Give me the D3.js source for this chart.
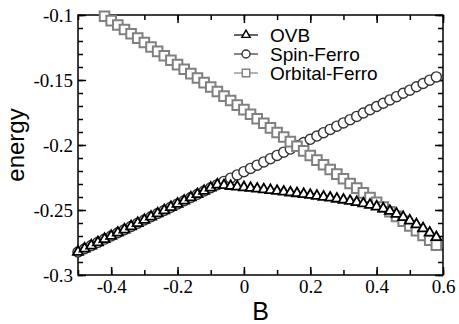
<!DOCTYPE html>
<html>
<head>
<meta charset="utf-8">
<script src="https://cdn.jsdelivr.net/npm/d3@7"></script>
<style>
  body { margin: 0; background: #fff; }
  .tick line { stroke: #000; stroke-width: 1.5; }
</style>
</head>
<body>
<div id="chart"></div>
<script>
// magnetic field values (shared by all three series)
const fieldB = [-0.5, -0.48, -0.46, -0.44, -0.42, -0.4, -0.38, -0.36, -0.34, -0.32,
    -0.3, -0.28, -0.26, -0.24, -0.22, -0.2, -0.18, -0.16, -0.14, -0.12,
    -0.1, -0.08, -0.06, -0.04, -0.02, 0, 0.02, 0.04, 0.06, 0.08,
    0.1, 0.12, 0.14, 0.16, 0.18, 0.2, 0.22, 0.24, 0.26, 0.28,
    0.3, 0.32, 0.34, 0.36, 0.38, 0.4, 0.42, 0.44, 0.46, 0.48,
    0.5, 0.52, 0.54, 0.56, 0.58];

const ovbEnergy = [-0.2823, -0.2798, -0.2774, -0.2749, -0.2724, -0.2700, -0.2675, -0.2651, -0.2626, -0.2601,
    -0.2577, -0.2552, -0.2527, -0.2503, -0.2478, -0.2453, -0.2429, -0.2404, -0.2379, -0.2354,
    -0.2329, -0.2305, -0.2310, -0.2316, -0.2321, -0.2326, -0.2331, -0.2337, -0.2342, -0.2348,
    -0.2354, -0.2360, -0.2366, -0.2372, -0.2378, -0.2385, -0.2392, -0.2399, -0.2406, -0.2414,
    -0.2422, -0.2431, -0.2440, -0.2450, -0.2461, -0.2474, -0.2490, -0.2508, -0.2530, -0.2555,
    -0.2582, -0.2611, -0.2642, -0.2675, -0.2710];

const spinFerroEnergy = [-0.2823, -0.2798, -0.2774, -0.2749, -0.2724, -0.2700, -0.2675, -0.2651, -0.2626, -0.2601,
    -0.2577, -0.2552, -0.2527, -0.2503, -0.2478, -0.2453, -0.2429, -0.2404, -0.2379, -0.2354,
    -0.2329, -0.2305, -0.2280, -0.2255, -0.2230, -0.2205, -0.2180, -0.2155, -0.2130, -0.2105,
    -0.2080, -0.2055, -0.2031, -0.2006, -0.1981, -0.1956, -0.1931, -0.1905, -0.1880, -0.1855,
    -0.1830, -0.1805, -0.1780, -0.1754, -0.1729, -0.1704, -0.1679, -0.1653, -0.1628, -0.1602,
    -0.1578, -0.1552, -0.1527, -0.1501, -0.1476];

// first four points lie above the plotted range
const orbitalFerroEnergy = [null, null, null, null, -0.1010, -0.1043, -0.1077, -0.1111, -0.1144, -0.1178,
    -0.1212, -0.1246, -0.1280, -0.1314, -0.1348, -0.1382, -0.1417, -0.1451, -0.1485, -0.1520,
    -0.1554, -0.1589, -0.1624, -0.1658, -0.1693, -0.1728, -0.1763, -0.1798, -0.1833, -0.1868,
    -0.1904, -0.1939, -0.1974, -0.2010, -0.2045, -0.2081, -0.2116, -0.2152, -0.2188, -0.2224,
    -0.2260, -0.2296, -0.2332, -0.2368, -0.2404, -0.2440, -0.2477, -0.2513, -0.2549, -0.2586,
    -0.2623, -0.2659, -0.2696, -0.2733, -0.2770];

const seriesNames = ["OVB", "Spin-Ferro", "Orbital-Ferro"];
const xTickValues = [-0.4, -0.2, 0, 0.2, 0.4, 0.6];
const xTickLabels = ["-0.4", "-0.2", "0", "0.2", "0.4", "0.6"];
const yTickValues = [-0.3, -0.25, -0.2, -0.15, -0.1];
const yTickLabels = ["-0.3", "-0.25", "-0.2", "-0.15", "-0.1"];

const serif = "'Liberation Serif', 'Times New Roman', Times, serif";
const sans = "'Liberation Sans', Arial, Helvetica, sans-serif";

const margin = {top: 15, right: 16, bottom: 49, left: 78},
    width = 459 - margin.left - margin.right,
    height = 324 - margin.top - margin.bottom;

const svg = d3.select("#chart")
    .append("svg")
    .attr("width", width + margin.left + margin.right)
    .attr("height", height + margin.top + margin.bottom)
    .append("g")
    .attr("transform", `translate(${margin.left}, ${margin.top})`);

const x = d3.scaleLinear().domain([-0.5, 0.6]).range([0, width]);
const y = d3.scaleLinear().domain([-0.3, -0.1]).range([height, 0]);

const xMinor = d3.range(0, 12).map(i => -0.5 + i * 0.1);
const yMinor = d3.range(0, 21).map(i => -0.3 + i * 0.01);

function fmt(values, labels) {
    return v => labels[values.findIndex(t => Math.abs(t - v) < 1e-9)];
}

// ticks on all four sides, pointing inward
function addAxis(axisFn, scale, major, minor, labels, transform) {
    const gMinor = svg.append("g").attr("transform", transform)
        .call(axisFn(scale).tickValues(minor).tickSize(-5).tickSizeOuter(0).tickFormat(""));
    gMinor.select(".domain").remove();
    const gMajor = svg.append("g").attr("transform", transform)
        .call(axisFn(scale).tickValues(major).tickSize(-8).tickSizeOuter(0).tickPadding(5)
            .tickFormat(labels ? fmt(major, labels) : ""));
    gMajor.select(".domain").remove();
    gMajor.attr("font-family", null).attr("font-size", null);
    gMajor.selectAll("text")
        .attr("font-family", serif)
        .attr("font-size", 19)
        .attr("fill", "#000");
    return gMajor;
}

addAxis(d3.axisBottom, x, xTickValues, xMinor, xTickLabels, `translate(0, ${height})`);
addAxis(d3.axisTop, x, xTickValues, xMinor, null, "translate(0, 0)");
addAxis(d3.axisLeft, y, yTickValues, yMinor, yTickLabels, "translate(0, 0)");
addAxis(d3.axisRight, y, yTickValues, yMinor, null, `translate(${width}, 0)`);

svg.append("rect")
    .attr("width", width)
    .attr("height", height)
    .attr("fill", "none")
    .attr("stroke", "#000")
    .attr("stroke-width", 1.5);

const styles = [
    {type: d3.symbolTriangle, size: 44, stroke: "#000", sw: 1.8, legendSize: 30},
    {type: d3.symbolCircle, size: 80, stroke: "#333", sw: 1.4, legendSize: 50},
    {type: d3.symbolSquare, size: 92, stroke: "#808080", sw: 2, legendSize: 56}
];
const seriesValues = [ovbEnergy, spinFerroEnergy, orbitalFerroEnergy];

// draw order: circles, squares, then triangles on top
[1, 2, 0].forEach(k => {
    const pts = fieldB.map((b, i) => ({b: b, e: seriesValues[k][i]})).filter(p => p.e !== null);
    svg.append("g")
        .selectAll("path")
        .data(pts)
        .join("path")
        .attr("transform", p => `translate(${x(p.b)}, ${y(p.e)})`)
        .attr("d", d3.symbol().type(styles[k].type).size(styles[k].size))
        .attr("fill", "#fff")
        .attr("stroke", styles[k].stroke)
        .attr("stroke-width", styles[k].sw);
});

// legend
const legend = svg.append("g").attr("transform", `translate(${234 - margin.left}, ${35 - margin.top})`);
seriesNames.forEach((name, k) => {
    const row = legend.append("g").attr("transform", `translate(0, ${k * 19})`);
    row.append("line")
        .attr("x1", 0).attr("x2", 24)
        .attr("stroke", styles[k].stroke)
        .attr("stroke-width", 1.2);
    row.append("path")
        .attr("transform", "translate(12, 0)")
        .attr("d", d3.symbol().type(styles[k].type).size(styles[k].legendSize))
        .attr("fill", "#fff")
        .attr("stroke", styles[k].stroke)
        .attr("stroke-width", 1.4);
    row.append("text")
        .attr("x", 36)
        .attr("dy", "0.36em")
        .attr("font-family", sans)
        .attr("font-size", 19)
        .text(name);
});

// axis titles
svg.append("text")
    .attr("x", width / 2)
    .attr("y", 320 - margin.top)
    .attr("text-anchor", "middle")
    .attr("font-family", sans)
    .attr("font-size", 25)
    .text("B");

svg.append("text")
    .attr("transform", `translate(${24 - margin.left}, ${height / 2}) rotate(-90)`)
    .attr("text-anchor", "middle")
    .attr("font-family", sans)
    .attr("font-size", 24)
    .text("energy");
</script>
</body>
</html>
